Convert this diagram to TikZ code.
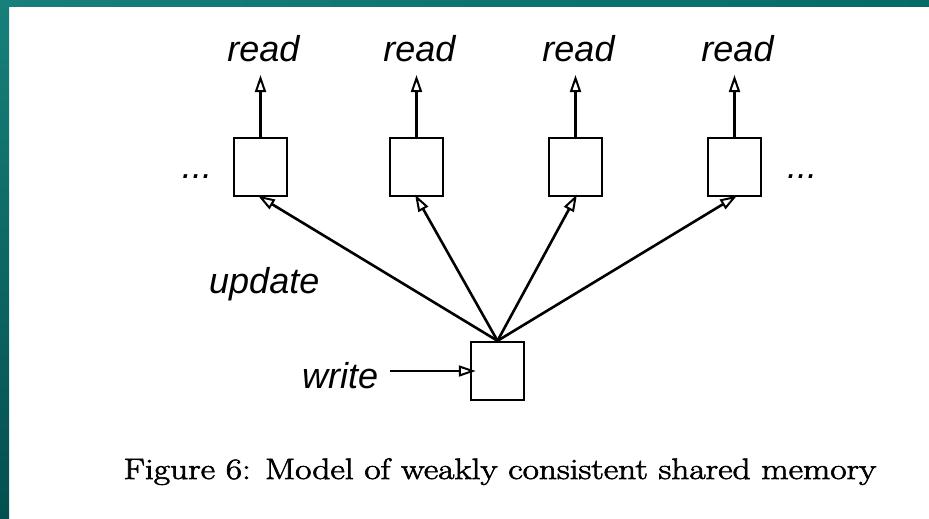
\documentclass[tikz,border=0pt]{standalone}
\usepackage{fontspec}
\newfontfamily\labelfont{Liberation Sans}
\newfontfamily\capfont[FakeBold=2]{Latin Modern Roman}
\usetikzlibrary{arrows.meta}
\definecolor{frameA}{HTML}{17807A}
\definecolor{frameB}{HTML}{046B69}
\definecolor{frameC}{HTML}{034F4F}
\tikzset{
  cell/.style={draw, line width=2.4pt, minimum width=53pt, minimum height=58pt, inner sep=0pt, fill=white},
  tag/.style={font=\labelfont\itshape\fontsize{36}{40}\selectfont, inner sep=0pt},
  link/.style={line width=2.6pt, -{Triangle[open, length=17pt, width=11pt, line width=2pt]}},
}
\begin{document}
\begin{tikzpicture}[x=1pt, y=-1pt]
  \useasboundingbox (0,0) rectangle (929,519);
  % page and its teal frame
  \fill[white!98!black] (0,0) rectangle (929,519);
  \fill[white] (9,7) rectangle (929,519);
  \shade[left color=frameA, right color=frameB] (0,0) rectangle (929,7);
  \shade[top color=frameA, bottom color=frameC] (0,0) rectangle (9,519);

  % memory cells
  \node[cell] (c1) at (260.5,167) {};
  \node[cell] (c2) at (416.5,167) {};
  \node[cell] (c3) at (575.5,167) {};
  \node[cell] (c4) at (734.5,167) {};
  \node[cell] (w)  at (497.5,371) {};

  % read ends
  \foreach \i/\x in {1/260.5, 2/416.5, 3/575.5, 4/734.5} {
    \coordinate (r\i) at (\x,75);
    \node[tag, anchor=base] (lr\i) at (\x+3,62) {read};
    \draw[link] (c\i.north) -- (r\i);
  }

  % updates from the written cell
  \foreach \i in {1,...,4}
    \draw[link, shorten >=-3pt] (w.north) -- (c\i.south);

  % write input
  \coordinate (win) at (390,371);
  \draw[link, shorten >=-6pt] (win) -- (w.west);

  \node[tag, anchor=base west] (lw) at (302,388) {write};
  \node[tag, anchor=base west] (lu) at (209,293) {update};
  \node[tag, anchor=base] (dl) at (197,178) {...};
  \node[tag, anchor=base] (dr) at (802,178) {...};

  % caption
  \node[anchor=base, inner sep=0pt, font=\capfont\fontsize{29.5}{34}\selectfont] (cap) at (500,479)
    {\scalebox{1.2}[1]{Figure 6: Model of weakly consistent shared memory}};
\end{tikzpicture}
\end{document}
